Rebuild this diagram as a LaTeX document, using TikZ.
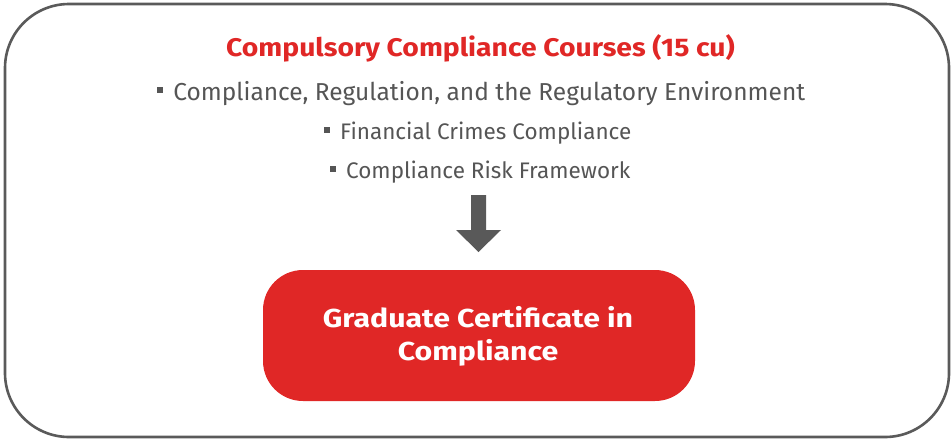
\documentclass[tikz,border=0pt]{standalone}
\usepackage{fontspec}
\usetikzlibrary{calc}
\setmainfont{Fira Sans}
\newfontfamily\ccwidebold[FakeStretch=1.11]{Fira Sans Bold}
\newfontfamily\cccertbold[FakeStretch=1.165]{Fira Sans Bold}
\definecolor{ccred}{HTML}{E02726}
\definecolor{ccgray}{HTML}{555555}
\definecolor{ccborder}{HTML}{5A5A5A}
\definecolor{ccarrow}{HTML}{595959}
\newcommand{\ccbul}[1]{\textcolor{ccgray}{\rule[#1]{6pt}{6pt}}\hspace{10.5pt}}
\tikzset{
  outerbox/.style={draw=ccborder, line width=2.6pt, rounded corners=64pt},
  titletext/.style={text=ccred, font=\ccwidebold\fontsize{25.5}{30}\selectfont, inner sep=0pt},
  bullettext/.style={text=ccgray, font=\fontsize{22.5}{27}\selectfont, inner sep=0pt, anchor=base},
  certbox/.style={fill=ccred, rounded corners=40pt},
  certtext/.style={text=white, font=\cccertbold\fontsize{26}{33}\selectfont, align=center, inner sep=0pt},
  blockarrow/.style={fill=ccarrow}
}
\begin{document}
\begin{tikzpicture}[x=1pt,y=-1pt]
\useasboundingbox (0,0) rectangle (952,440);
\draw[outerbox] (5,4) rectangle (949,437);
\node[titletext, anchor=base] (title) at (480.5,56.5) {Compulsory Compliance Courses (15 cu)};
\node[bullettext, font=\fontsize{24.5}{29}\selectfont] (b1) at (481,100) {\ccbul{7pt}Compliance, Regulation, and the Regulatory Environment};
\node[bullettext] (b2) at (477.5,139) {\ccbul{5.7pt}Financial Crimes Compliance};
\node[bullettext] (b3) at (480,178) {\ccbul{5.7pt}Compliance Risk Framework};
\node[certbox, minimum width=432pt, minimum height=131pt] (cert) at (479,335.5) {};
\node[certtext, anchor=base] (certlabel) at (478,360) {Graduate Certificate in\\Compliance};
\coordinate (atop) at (478.5,195);
\coordinate (atip) at (478.5,252);
\fill[blockarrow] ($(atop)+(-7.5,0)$) -- ($(atop)+(7.5,0)$) -- ($(atop)+(7.5,35)$) -- ($(atop)+(22.5,35)$) -- (atip) -- ($(atop)+(-22.5,35)$) -- ($(atop)+(-7.5,35)$) -- cycle;
\end{tikzpicture}
\end{document}
